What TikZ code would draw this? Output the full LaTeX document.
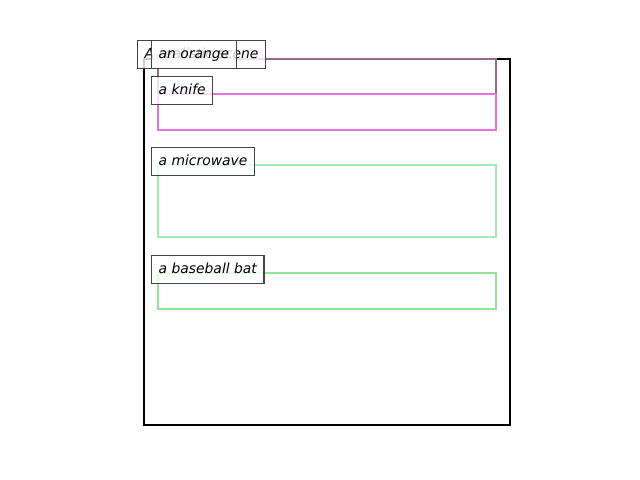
\documentclass[tikz,border=0pt]{standalone}
\usepackage{fontspec}
\setmainfont{DejaVu Sans}
\usepackage{xcolor}
\usepackage{tikz}
\definecolor{orangebox}{HTML}{9A6A8A}
\definecolor{knifebox}{HTML}{E870E0}
\definecolor{microbox}{HTML}{A3EBB5}
\definecolor{batbox}{HTML}{94E39A}
\definecolor{tagline}{HTML}{444444}

\begin{document}
\begin{tikzpicture}[x=0.72pt,y=-0.72pt,font=\fontsize{10}{12}\selectfont\itshape,
  frame/.style={draw=black,line width=1.8pt},
  obj/.style={line width=2.15pt},
  tag/.style={draw=tagline,line width=1pt,fill=white,fill opacity=0.8,text opacity=1,
    anchor=north west,inner xsep=5pt,inner ysep=5.08pt,text height=7.5pt,text depth=2.5pt}]
  \useasboundingbox (0,0) rectangle (640,480);
  \draw[frame] (144,59) rectangle (510,425);
  \draw[obj,draw=orangebox] (158,59) rectangle (496,94);
  \draw[obj,draw=knifebox] (158,94) rectangle (496,130);
  \draw[obj,draw=microbox] (158,165) rectangle (496,237);
  \draw[obj,draw=batbox] (158,273) rectangle (496,309);
  \node[tag] (scene) at (137,40) {A realistic scene};
  \node[tag] (orange) at (151,40) {an orange};
  \node[tag] (knife) at (151,76) {a knife};
  \node[tag] (micro) at (151,147) {a microwave};
  \node[tag] (bat) at (151,255) {a baseball bat};
\end{tikzpicture}
\end{document}
